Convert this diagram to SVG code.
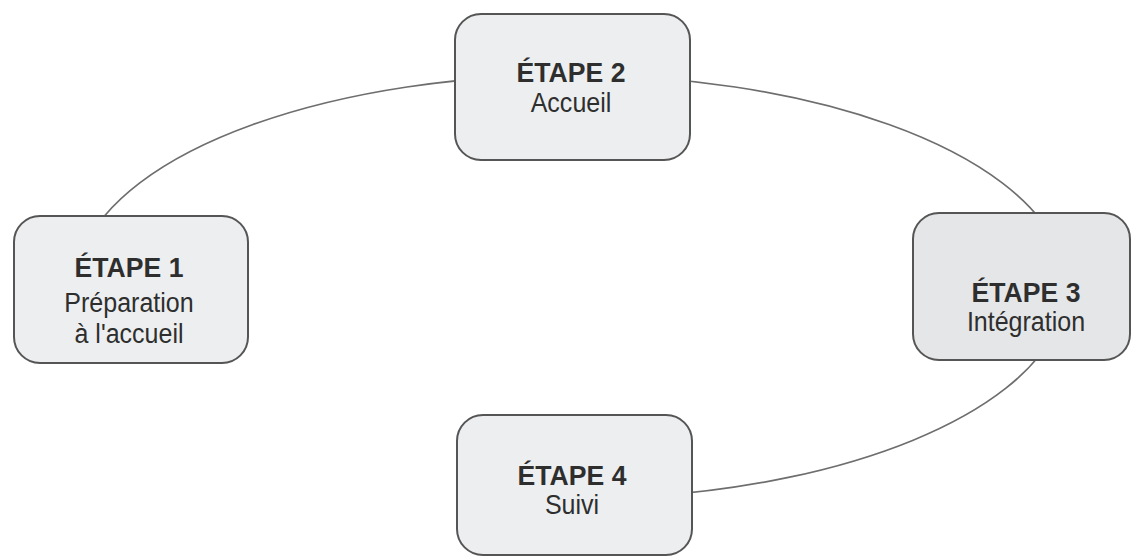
<svg xmlns="http://www.w3.org/2000/svg" width="1132" height="558" viewBox="0 0 1132 558">
<style>
.box{fill:#eceef0;stroke:#555;stroke-width:2}
.dark{fill:#e4e6e8}
.conn{fill:none;stroke:#6e6e6e;stroke-width:1.7}
.t{font-family:"Liberation Sans",Arial,sans-serif;fill:#2e2e2e;text-anchor:middle}
.h{font-size:28px;font-weight:bold}
.s{font-size:27.5px}
</style>
<rect width="1132" height="558" fill="#ffffff"/>
<g id="connectors">
<path class="conn" d="M 83.6 250 A 495 212 0 0 1 1058.4 250"/>
<path class="conn" d="M 1055.6 330 A 495 212 0 0 1 650 496.3"/>
</g>
<g id="node1">
<rect class="box" x="14" y="216" width="234" height="147" rx="26"/>
<text class="t h" transform="translate(129 277) scale(0.95 1)">ÉTAPE 1</text>
<text class="t s" transform="translate(129 312) scale(0.91 1)">Préparation</text>
<text class="t s" transform="translate(129 343) scale(0.91 1)">à l'accueil</text>
</g>
<g id="node2">
<rect class="box" x="455" y="14" width="235" height="146" rx="26"/>
<text class="t h" transform="translate(571 82) scale(0.95 1)">ÉTAPE 2</text>
<text class="t s" transform="translate(571 112) scale(0.91 1)">Accueil</text>
</g>
<g id="node3">
<rect class="box dark" x="913" y="213" width="217" height="147" rx="26"/>
<text class="t h" transform="translate(1026 302) scale(0.95 1)">ÉTAPE 3</text>
<text class="t s" transform="translate(1026 331) scale(0.91 1)">Intégration</text>
</g>
<g id="node4">
<rect class="box" x="457" y="415" width="235" height="140" rx="26"/>
<text class="t h" transform="translate(572 485) scale(0.95 1)">ÉTAPE 4</text>
<text class="t s" transform="translate(572 514) scale(0.91 1)">Suivi</text>
</g>
</svg>
